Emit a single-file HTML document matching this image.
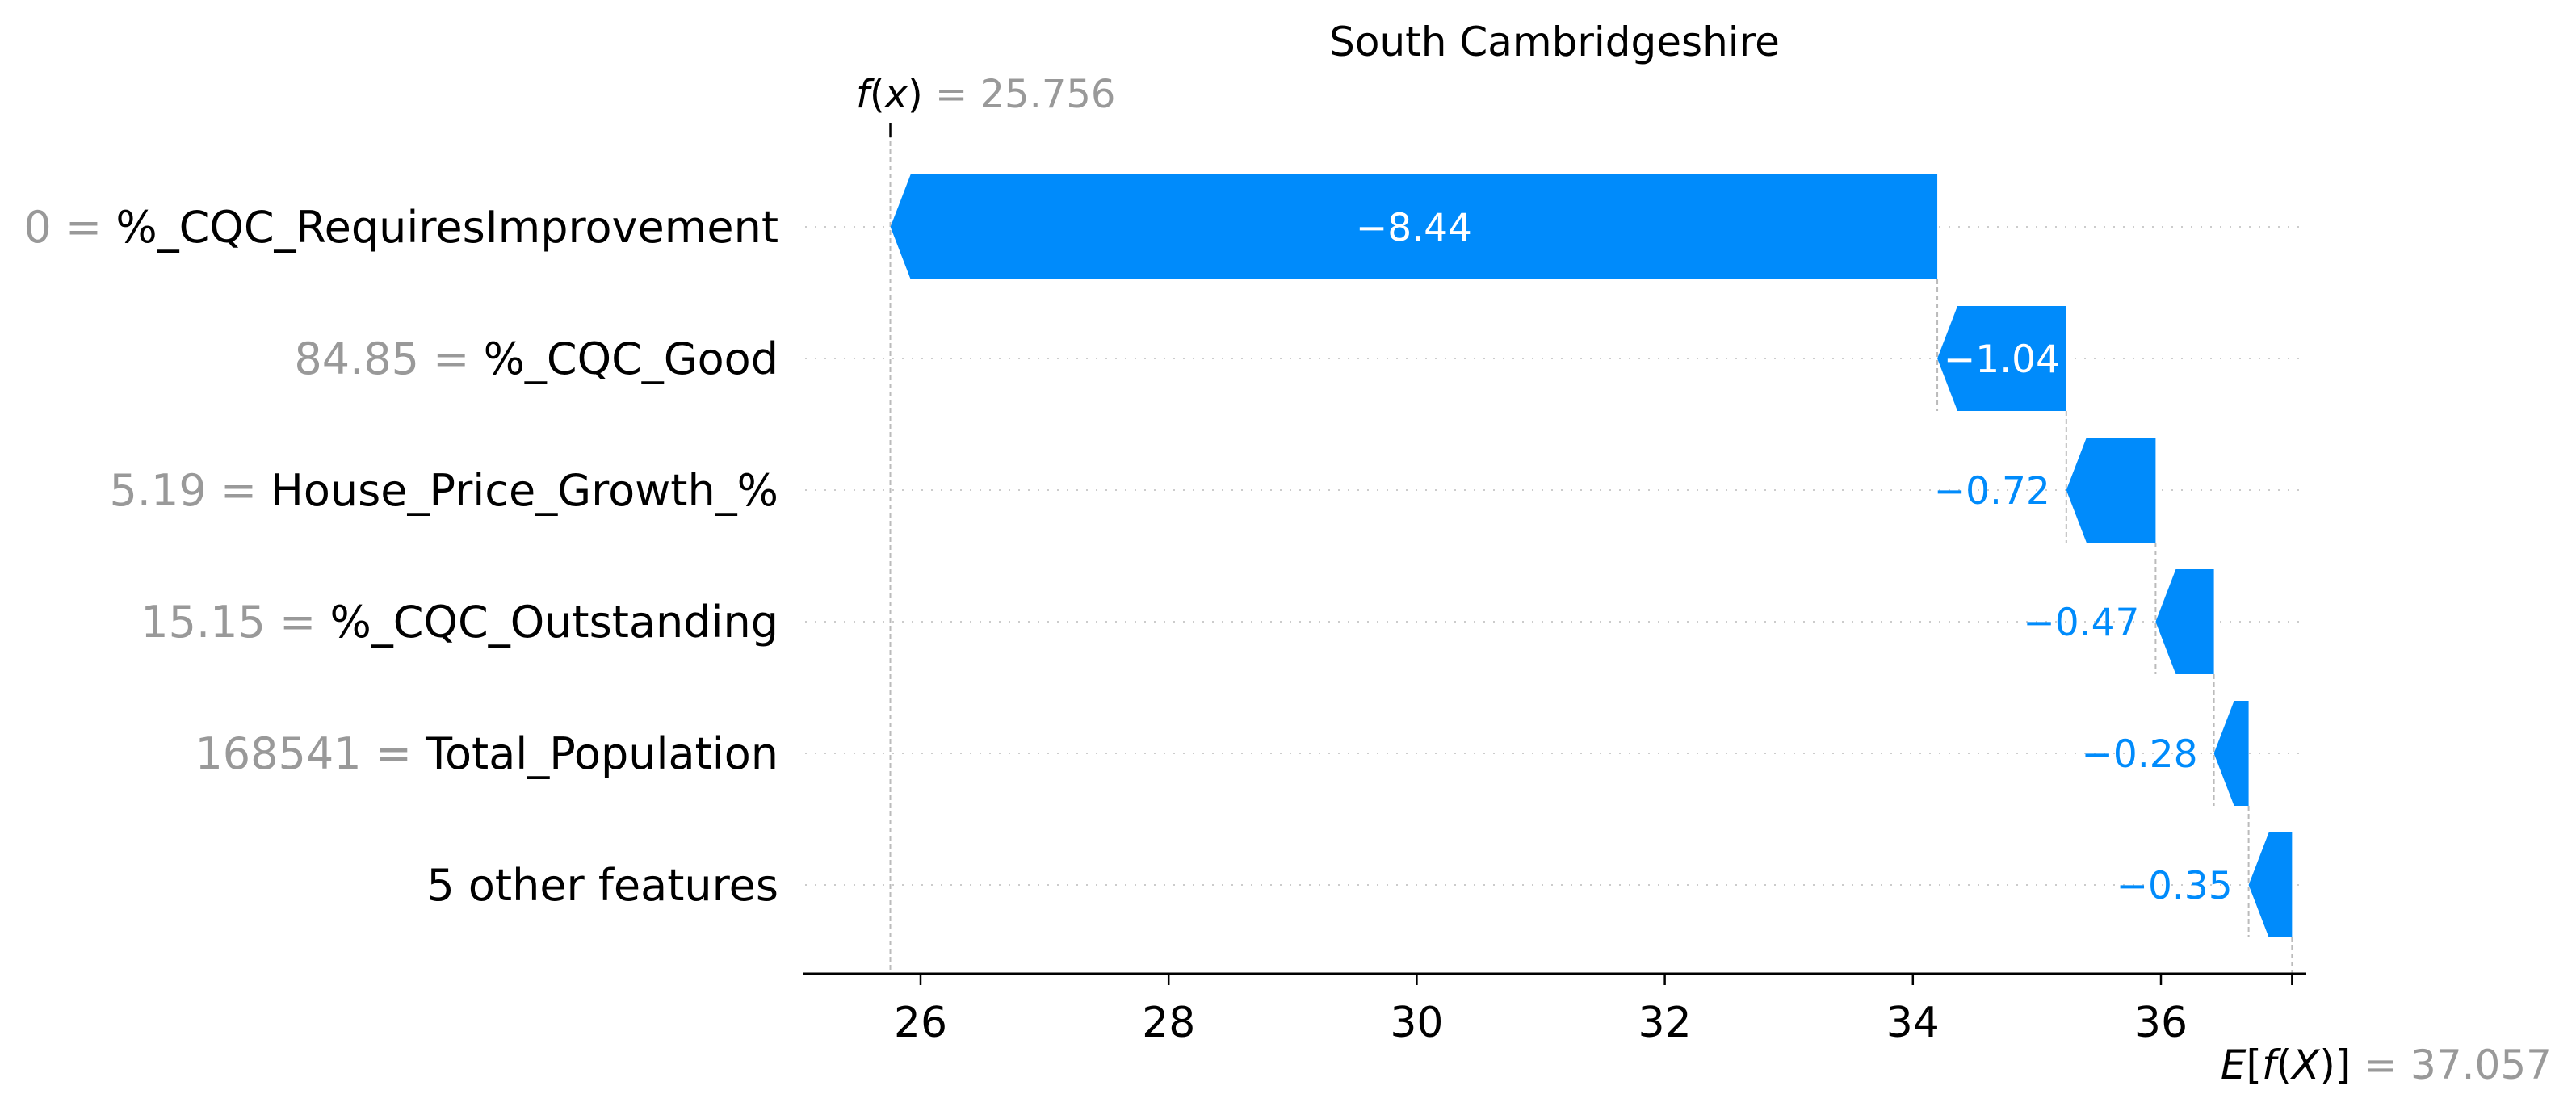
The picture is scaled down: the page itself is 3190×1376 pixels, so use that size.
<!DOCTYPE html>
<html><head><meta charset="utf-8">
<style>
html,body{margin:0;padding:0;background:#fff;}
svg{display:block;font-family:"DejaVu Sans","Liberation Sans",sans-serif;}
</style></head>
<body>
<svg id="chart" width="3190" height="1376" viewBox="0 0 3190 1376" xmlns="http://www.w3.org/2000/svg">
<text x="1925" y="69" font-size="50" text-anchor="middle" fill="#000">South Cambridgeshire</text>
</svg>
<script>
const featureValues = ["0", "84.85", "5.19", "15.15", "168541", ""];
const featureNames = ["%_CQC_RequiresImprovement", "%_CQC_Good", "House_Price_Growth_%", "%_CQC_Outstanding", "Total_Population", "5 other features"];
const shapValues = [-8.44, -1.04, -0.72, -0.47, -0.28, -0.35];
const baseValue = 37.057;
const fxValue = 25.756;
const xTicks = [26, 28, 30, 32, 34, 36];

const svg = document.getElementById('chart');
const NS = 'http://www.w3.org/2000/svg';
const X0 = 1140, XS = 153.6;
function xs(v){ return X0 + (v - 26) * XS; }
function ys(i){ return 281 + i * 163; }
const HALF = 65, AXIS_Y = 1206, BLUE = '#008bfb';
function el(tag, attrs, parent){
  const e = document.createElementNS(NS, tag);
  for (const k in attrs) e.setAttribute(k, attrs[k]);
  (parent || svg).appendChild(e);
  return e;
}
for (let i = 0; i < featureNames.length; i++) {
  const g = el('line', {x1: 997, x2: 2850, y1: ys(i), y2: ys(i), stroke: '#ccc', 'stroke-width': 2, 'stroke-dasharray': '2 10'});
  
  
}
const n = shapValues.length;
const starts = new Array(n);
let cur = baseValue;
for (let i = n - 1; i >= 0; i--) { starts[i] = cur; cur += shapValues[i]; }
const fx = fxValue;
function vline(x, y1, y2, name){
  const l = el('line', {x1: x, x2: x, y1: y1, y2: y2, stroke: '#bbb', 'stroke-width': 2, 'stroke-dasharray': '6 4'});
  
  
}
vline(xs(fx), 165, AXIS_Y, 'fx-line');
vline(xs(baseValue), ys(n - 1) + HALF, AXIS_Y, 'base-value-line');
for (let i = 1; i < n; i++) {
  vline(xs(starts[i] + shapValues[i]), ys(i - 1) + HALF, ys(i) + HALF, 'connector-line');
}
for (let i = 0; i < n; i++) {
  const a = xs(starts[i]), b = xs(starts[i] + shapValues[i]);
  const w = Math.abs(a - b);
  const hl = Math.min(25, w);
  const y = ys(i);
  const pts = [[a, y - HALF], [b + hl, y - HALF], [b, y], [b + hl, y + HALF], [a, y + HALF]].map(p => p.join(',')).join(' ');
  const p = el('polygon', {points: pts, fill: BLUE});
  
  
  const label = '\u2212' + Math.abs(shapValues[i]).toFixed(2);
  const tw = label.length * 28;
  let t;
  if (tw < w) {
    t = el('text', {x: (a + b) / 2, y: y + 17, 'font-size': 47, 'text-anchor': 'middle', fill: '#fff'});
  } else {
    t = el('text', {x: b - 20, y: y + 17, 'font-size': 47, 'text-anchor': 'end', fill: BLUE});
  }
  t.textContent = label;
  
  
  const fl = el('text', {x: 964, y: y + 19, 'font-size': 54, 'text-anchor': 'end', fill: '#000'});
  
  
  if (featureValues[i] !== '') {
    const s1 = el('tspan', {fill: '#999'}, fl); s1.textContent = featureValues[i] + ' = ';
  }
  const s2 = el('tspan', {fill: '#000'}, fl); s2.textContent = featureNames[i];
}
const ax = el('line', {x1: 995, x2: 2856, y1: AXIS_Y, y2: AXIS_Y, stroke: '#000', 'stroke-width': 3});


for (const t of xTicks) {
  const tk = el('line', {x1: xs(t), x2: xs(t), y1: AXIS_Y, y2: AXIS_Y + 14, stroke: '#000', 'stroke-width': 2.5});
  
  
  const tl = el('text', {x: xs(t), y: AXIS_Y + 78, 'font-size': 52, 'text-anchor': 'middle', fill: '#000'});
  tl.textContent = t;
  
  
}
const et = el('line', {x1: xs(baseValue), x2: xs(baseValue), y1: AXIS_Y, y2: AXIS_Y + 14, stroke: '#000', 'stroke-width': 2.5});


const ft = el('line', {x1: xs(fx), x2: xs(fx), y1: 152, y2: 170, stroke: '#000', 'stroke-width': 2.5});


const fxl = el('text', {x: 1060, y: 133, 'font-size': 48, 'text-anchor': 'start', fill: '#000'});


const f1 = el('tspan', {'font-style': 'italic'}, fxl); f1.textContent = 'f';
const f2 = el('tspan', {}, fxl); f2.textContent = '(';
const f3 = el('tspan', {'font-style': 'italic'}, fxl); f3.textContent = 'x';
const f4 = el('tspan', {}, fxl); f4.textContent = ')';
const f5 = el('tspan', {fill: '#999'}, fxl); f5.textContent = ' = ' + fxValue.toFixed(3);
const el2 = el('text', {x: 3160, y: 1336, 'font-size': 50, 'text-anchor': 'end', fill: '#000'});


const e1 = el('tspan', {'font-style': 'italic'}, el2); e1.textContent = 'E';
const e2 = el('tspan', {}, el2); e2.textContent = '[';
const e3 = el('tspan', {'font-style': 'italic'}, el2); e3.textContent = 'f';
const e4 = el('tspan', {}, el2); e4.textContent = '(';
const e5 = el('tspan', {'font-style': 'italic'}, el2); e5.textContent = 'X';
const e6 = el('tspan', {}, el2); e6.textContent = ')]';
const e7 = el('tspan', {fill: '#999'}, el2); e7.textContent = ' = ' + baseValue.toFixed(3);
</script>
</body></html>
